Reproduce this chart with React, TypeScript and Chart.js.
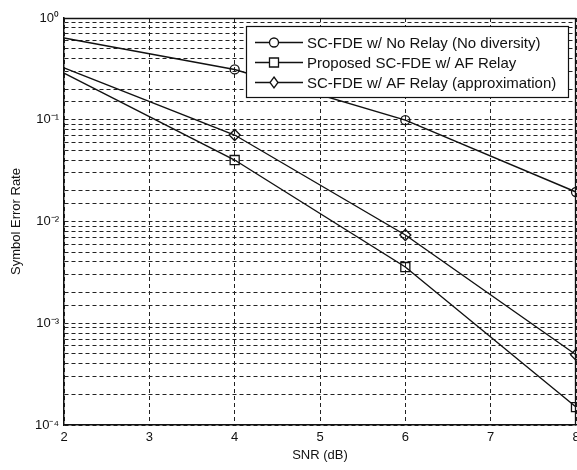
import React, { useEffect, useRef } from "react";
import { Chart, registerables } from "chart.js";

Chart.register(...registerables);

// ---- data ----
const snrDb = [2, 4, 6, 8];
const noRelaySER = [0.636, 0.312, 0.099, 0.0195];
const proposedAfSER = [0.288, 0.0402, 0.00357, 0.00015];
const approxAfSER = [0.323, 0.0708, 0.00737, 0.00049];
const seriesLabels = [
  "SC-FDE w/ No Relay (No diversity)",
  "Proposed SC-FDE w/ AF Relay",
  "SC-FDE w/ AF Relay (approximation)",
];
const xTickValues = [2, 3, 4, 5, 6, 7, 8];
const yDecadeValues = [1, 0.1, 0.01, 0.001, 0.0001];
const yDecadeLabels = ["10⁰", "10⁻¹", "10⁻²", "10⁻³", "10⁻⁴"];
const xTitle = "SNR (dB)";
const yTitle = "Symbol Error Rate";

const FONT = '"Liberation Sans", Arial, sans-serif';
const INK = "#111";
const GRID_DASH = [4, 3];

function drawMarker(ctx: CanvasRenderingContext2D, style: string, x: number, y: number) {
  ctx.beginPath();
  if (style === "circle") {
    ctx.arc(x, y, 4.5, 0, Math.PI * 2);
  } else if (style === "rect") {
    ctx.rect(x - 4.5, y - 4.5, 9, 9);
  } else {
    ctx.moveTo(x, y - 5.5);
    ctx.lineTo(x + 4, y);
    ctx.lineTo(x, y + 5.5);
    ctx.lineTo(x - 4, y);
    ctx.closePath();
  }
  ctx.fillStyle = "#fff";
  ctx.fill();
  ctx.stroke();
}

const legendBoxPlugin = {
  id: "legendBox",
  afterDraw(chart: any) {
    const ctx: CanvasRenderingContext2D = chart.ctx;
    const { chartArea } = chart;
    ctx.save();
    ctx.setLineDash([]);
    // plot frame top & right
    ctx.strokeStyle = INK;
    ctx.lineWidth = 1.3;
    ctx.beginPath();
    ctx.moveTo(chartArea.left, chartArea.top + 0.5);
    ctx.lineTo(chartArea.right - 0.5, chartArea.top + 0.5);
    ctx.lineTo(chartArea.right - 0.5, chartArea.bottom);
    ctx.stroke();

    const bx = 246.5, by = 26.5, bw = 322, bh = 71;
    ctx.fillStyle = "#fff";
    ctx.fillRect(bx, by, bw, bh);
    ctx.lineWidth = 1.2;
    ctx.strokeRect(bx, by, bw, bh);
    ctx.font = `15px ${FONT}`;
    ctx.textBaseline = "middle";
    ctx.textAlign = "left";
    chart.data.datasets.forEach((ds: any, i: number) => {
      const y = 42.5 + i * 20;
      ctx.strokeStyle = INK;
      ctx.lineWidth = 1.3;
      ctx.beginPath();
      ctx.moveTo(255, y);
      ctx.lineTo(303, y);
      ctx.stroke();
      drawMarker(ctx, ds.pointStyle, 274, y);
      ctx.fillStyle = INK;
      ctx.fillText(ds.label, 307, y + 1);
    });
    ctx.restore();
  },
};

export default function App() {
  const ref = useRef<HTMLCanvasElement>(null);

  useEffect(() => {
    document.body.style.margin = "0";
    const canvas = ref.current!;
    const mk = (vals: number[]) => snrDb.map((x, i) => ({ x, y: vals[i] }));
    const styles = ["circle", "rect", "rectRot"];
    const radii = [[0, 4.5, 4.5, 4.5], [0, 6.4, 6.4, 6.4], [0, 5.5, 5.5, 5.5]];
    const series = [noRelaySER, proposedAfSER, approxAfSER];
    const chart = new Chart(canvas, {
      type: "line",
      data: {
        datasets: series.map((vals, i) => ({
          label: seriesLabels[i],
          data: mk(vals),
          borderColor: INK,
          borderWidth: 1.4,
          pointStyle: styles[i],
          pointRadius: radii[i],
          pointBorderColor: INK,
          pointBorderWidth: 1.3,
          pointBackgroundColor: "rgba(255,255,255,0)",
          tension: 0,
          fill: false,
          clip: false,
        })),
      },
      options: {
        responsive: false,
        animation: false,
        events: [],
        layout: { autoPadding: false, padding: { top: 18, right: 1, left: 0, bottom: 0 } },
        plugins: { legend: { display: false }, tooltip: { enabled: false } },
        scales: {
          x: {
            type: "linear",
            min: 2,
            max: 8,
            afterBuildTicks: (scale: any) => {
              scale.ticks = xTickValues.map((v) => ({ value: v }));
            },
            afterFit: (scale: any) => {
              scale.height = 45;
              scale.paddingRight = 0;
              scale.paddingLeft = 0;
            },
            ticks: {
              color: INK,
              font: { family: FONT, size: 13 },
              padding: 5,
              maxRotation: 0,
              autoSkip: false,
            },
            grid: {
              color: "#222",
              lineWidth: 1,
              drawTicks: false,
            },
            border: { display: true, color: INK, width: 1.5, dash: GRID_DASH },
            title: {
              display: true,
              text: xTitle,
              color: INK,
              font: { family: FONT, size: 13 },
              padding: { top: 0, bottom: 7 },
            },
          },
          y: {
            type: "logarithmic",
            min: 1e-4,
            max: 1,
            afterFit: (scale: any) => {
              scale.width = 64;
            },
            ticks: {
              color: INK,
              font: { family: FONT, size: 13 },
              padding: 5,
              autoSkip: false,
              callback: (v: any) => {
                const idx = yDecadeValues.findIndex((d) => Math.abs(Number(v) / d - 1) < 1e-6);
                return idx >= 0 ? yDecadeLabels[idx] : "";
              },
            },
            grid: {
              color: "#222",
              lineWidth: 1,
              drawTicks: false,
            },
            border: { display: true, color: INK, width: 1.5, dash: GRID_DASH },
            title: {
              display: true,
              text: yTitle,
              color: INK,
              font: { family: FONT, size: 13 },
              padding: { top: 9, bottom: 0 },
            },
          },
        },
      },
      plugins: [legendBoxPlugin],
    } as any);
    return () => chart.destroy();
  }, []);

  return (
    <div style={{ width: 577, height: 470 }}>
      <canvas ref={ref} width={577} height={470} style={{ display: "block" }} />
    </div>
  );
}
